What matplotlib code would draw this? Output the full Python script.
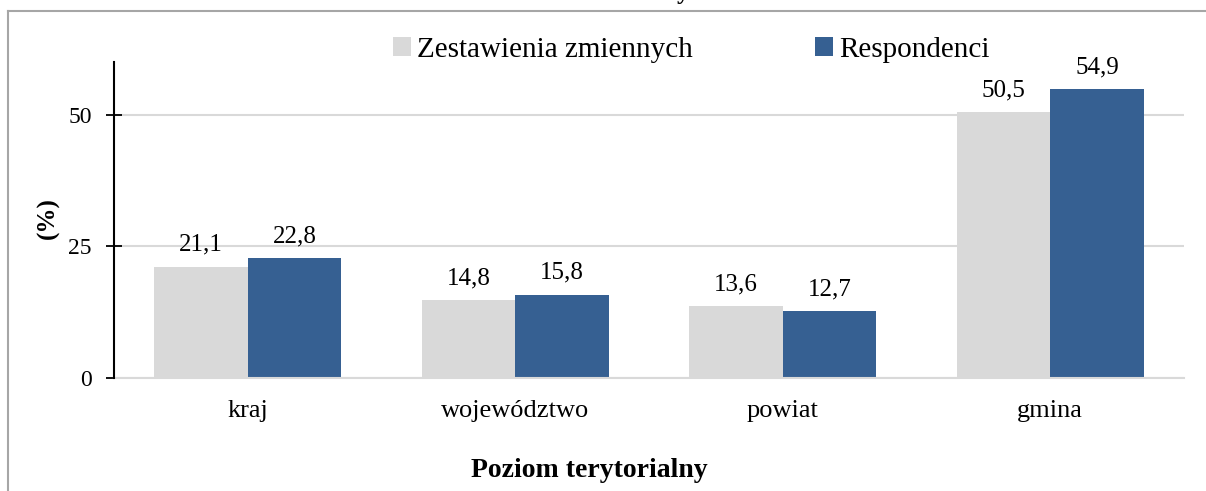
import matplotlib
matplotlib.use("Agg")
import matplotlib.pyplot as plt
import numpy as np
from matplotlib.patches import Patch
from matplotlib.lines import Line2D

categories = ["kraj", "województwo", "powiat", "gmina"]
series_names = ["Zestawienia zmiennych", "Respondenci"]
zestawienia = [21.1, 14.8, 13.6, 50.5]
respondenci = [22.8, 15.8, 12.7, 54.9]
y_ticks = [0, 25, 50]
x_label = "Poziom terytorialny"
y_label = "(%)"

gray = "#d9d9d9"
blue = "#366092"

plt.rcParams["font.family"] = ["Liberation Serif", "DejaVu Serif"]

fig = plt.figure(figsize=(12.06, 4.91), dpi=100)
W, H = 1206, 491
ax = fig.add_axes([114 / W, 1 - 378 / H, (1184 - 114) / W, (378 - 62.4) / H])

x = np.arange(len(categories))
bw = 0.35
b1 = ax.bar(x - bw / 2, zestawienia, bw, color=gray, zorder=2)
b2 = ax.bar(x + bw / 2, respondenci, bw, color=blue, zorder=2)

fmt = lambda v: f"{v:.1f}".replace(".", ",")
for bars, vals in ((b1, zestawienia), (b2, respondenci)):
    ax.bar_label(bars, labels=[fmt(v) for v in vals], padding=8, fontsize=18)

ax.set_xlim(-0.5, len(categories) - 0.5)
ax.set_ylim(0, 60)
ax.set_yticks(y_ticks)
ax.set_yticklabels([str(t) for t in y_ticks], fontsize=17)
ax.set_xticks(x)
ax.set_xticklabels(categories, fontsize=19)
ax.tick_params(axis="x", length=0, pad=16)
ax.tick_params(axis="y", direction="inout", length=12, width=1.3, color="black", pad=10)

ax.grid(axis="y", color=gray, linewidth=1.5, zorder=0)
ax.set_axisbelow(True)
for s in ("top", "right"):
    ax.spines[s].set_visible(False)
ax.spines["left"].set_color("black")
ax.spines["left"].set_linewidth(1.5)
ax.spines["left"].set_zorder(3)
ax.spines["bottom"].set_color(gray)
ax.spines["bottom"].set_linewidth(1.5)

fig.text(48 / W, 1 - 218 / H, y_label, fontsize=18, fontweight="bold",
         rotation=90, ha="center", va="center")
fig.text(589 / W, 1 - 477 / H, x_label, fontsize=20, fontweight="bold",
         ha="center", va="baseline")

handles = [Patch(facecolor=gray), Patch(facecolor=blue)]
fig.legend(handles, series_names, loc="center", bbox_to_anchor=(691 / W, 1 - 50 / H),
           ncol=2, frameon=False, fontsize=21, handlelength=0.62, handleheight=0.62,
           handletextpad=0.2, columnspacing=4.2, borderaxespad=0, borderpad=0)

# outer frame
frame_c = "#a6a6a6"
fig.add_artist(Line2D([8 / W, 1205 / W], [1 - 11 / H, 1 - 11 / H], color=frame_c, lw=1.5))
fig.add_artist(Line2D([8 / W, 8 / W], [1 - 11 / H, 0], color=frame_c, lw=1.5))

# cropped title remnant (only its descender is visible)
fig.text(683 / W, 1 + 1 / H, "y", fontsize=18, fontweight="bold", ha="center", va="baseline")

fig.savefig("out.png", dpi=100)
